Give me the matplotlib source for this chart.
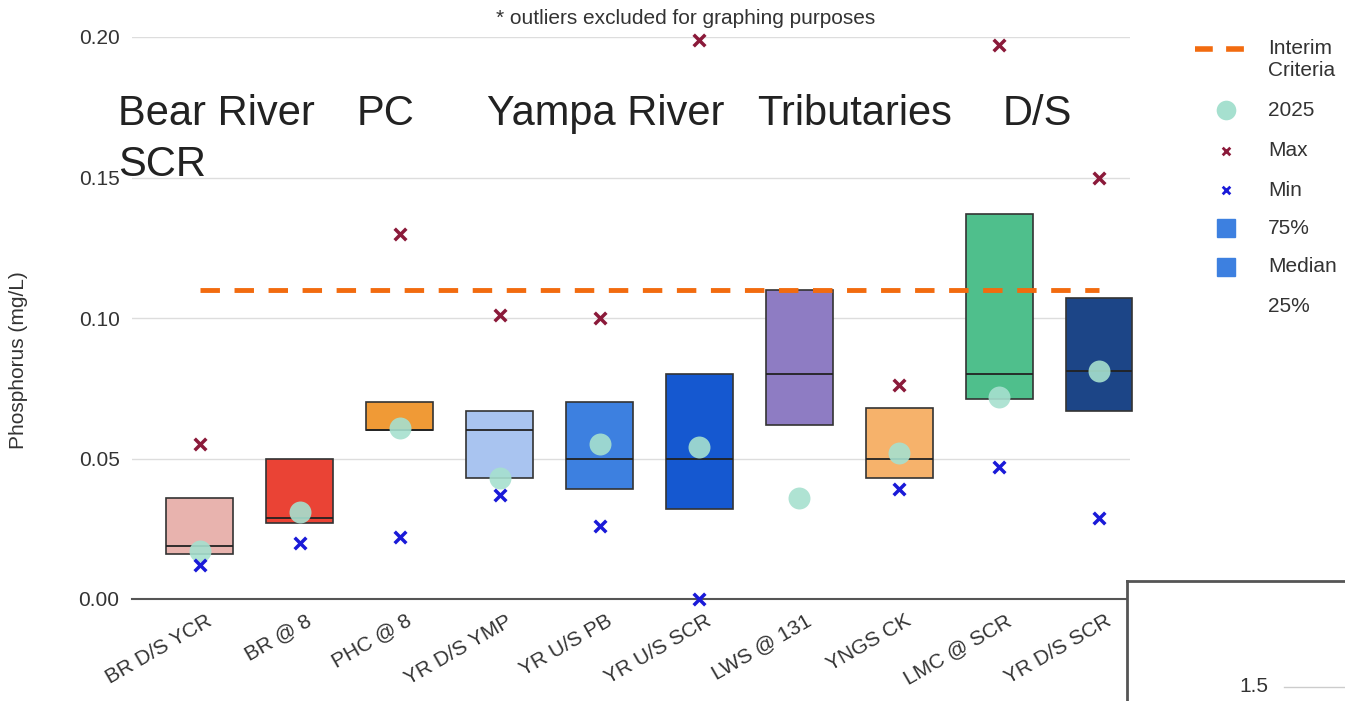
import numpy as np
import matplotlib
matplotlib.use("Agg")
import matplotlib.pyplot as plt
import matplotlib.transforms as mtransforms
from matplotlib.patches import Rectangle

plt.rcParams['font.family'] = ['Liberation Sans', 'DejaVu Sans']

sites = ['BR D/S YCR', 'BR @ 8', 'PHC @ 8', 'YR D/S YMP', 'YR U/S PB',
         'YR U/S SCR', 'LWS @ 131', 'YNGS CK', 'LMC @ SCR', 'YR D/S SCR']
q25 = [0.016, 0.027, 0.060, 0.043, 0.039, 0.032, 0.062, 0.043, 0.071, 0.067]
median = [0.019, 0.029, 0.060, 0.060, 0.050, 0.050, 0.080, 0.050, 0.080, 0.081]
q75 = [0.036, 0.050, 0.070, 0.067, 0.070, 0.080, 0.110, 0.068, 0.137, 0.107]
vmax = [0.055, np.nan, 0.130, 0.101, 0.100, 0.199, np.nan, 0.076, 0.197, 0.150]
vmin = [0.012, 0.020, 0.022, 0.037, 0.026, 0.000, np.nan, 0.039, 0.047, 0.029]
y2025 = [0.017, 0.031, 0.061, 0.043, 0.055, 0.054, 0.036, 0.052, 0.072, 0.081]
criteria = 0.110

box_colors = ['#e8b3ae', '#ea4335', '#f09a36', '#a9c4f0', '#3d80e0',
              '#1558d0', '#8e7cc3', '#f6b26b', '#4fbf8c', '#1c4587']
group_labels = ['Bear River', 'PC', 'Yampa River', 'Tributaries', 'D/S']
group_x = [118, 357, 487, 757, 1003]

ORANGE = '#f26b0f'
MINT = '#a6e0cf'
MAXC = '#8b1a3a'
MINC = '#1a1ad8'
TXT = '#333333'
FS = 15

W, H = 1345, 701
fig = plt.figure(figsize=(W / 100, H / 100), dpi=100)
ax = fig.add_axes([132 / W, 1 - 599 / H, (1130 - 132) / W, (599 - 37) / H])

x = np.arange(len(sites))
ax.bar(x, np.array(q75) - np.array(q25), bottom=q25, width=0.67,
       color=box_colors, edgecolor='#333333', linewidth=1.2, zorder=3,
       clip_on=False)
ax.hlines(median, x - 0.335, x + 0.335, color='#222222', linewidth=1.3,
          zorder=4, clip_on=False)
ax.plot([0, len(sites) - 1], [criteria, criteria], color=ORANGE,
        linestyle=(0, (4, 3)), linewidth=3.5, zorder=5)
ax.scatter(x, y2025, s=250, color=MINT, alpha=0.9, zorder=6, linewidths=0)
ax.scatter(x, vmax, marker='x', s=70, color=MAXC, linewidths=2.5,
           zorder=7, clip_on=False)
ax.scatter(x, vmin, marker='x', s=70, color=MINC, linewidths=2.5,
           zorder=7, clip_on=False)

ax.set_xlim(-0.68, 9.31)
ax.set_ylim(0, 0.2)
ax.set_yticks([0, 0.05, 0.10, 0.15, 0.20])
ax.set_yticklabels(['0.00', '0.05', '0.10', '0.15', '0.20'])
ax.set_xticks(x)
ax.set_xticklabels(sites, rotation=30, ha='right', rotation_mode='anchor')
ax.tick_params(axis='both', length=0, labelsize=FS, labelcolor=TXT)
ax.tick_params(axis='x', pad=9)
ax.tick_params(axis='y', pad=9)
shift = mtransforms.ScaledTranslation(6 / 100, 0, fig.dpi_scale_trans)
for lbl in ax.get_xticklabels():
    lbl.set_transform(lbl.get_transform() + shift)
ax.grid(axis='y', color='#dddddd', linewidth=1, zorder=0)
for s in ['top', 'right', 'left']:
    ax.spines[s].set_visible(False)
ax.spines['bottom'].set_color('#555555')
ax.spines['bottom'].set_linewidth(1.5)

fig.text(19 / W, 1 - 360 / H, 'Phosphorus (mg/L)', rotation=90,
         ha='center', va='center', fontsize=FS, color=TXT)
fig.text(686 / W, 1 - 18 / H, '* outliers excluded for graphing purposes',
         ha='center', va='center', fontsize=FS, color=TXT)

for lab, gx in zip(group_labels, group_x):
    fig.text(gx / W, 1 - 125 / H, lab, fontsize=30, color='#222222',
             ha='left', va='baseline')
fig.text(118 / W, 1 - 176 / H, 'SCR', fontsize=30, color='#222222',
         ha='left', va='baseline')

# legend drawn in pixel coordinates
lax = fig.add_axes([0, 0, 1, 1], facecolor='none')
lax.set_xlim(0, W)
lax.set_ylim(H, 0)
lax.axis('off')
hx, tx = 1226, 1268
lax.plot([1195, 1257], [49, 49], color=ORANGE, linestyle=(0, (3.2, 2.4)),
         linewidth=4)
lax.text(tx, 49, 'Interim', fontsize=FS, color=TXT, va='center')
lax.text(tx, 70, 'Criteria', fontsize=FS, color=TXT, va='center')
lax.scatter([hx], [110], s=200, color=MINT, linewidths=0)
lax.text(tx, 110, '2025', fontsize=FS, color=TXT, va='center')
lax.scatter([hx], [151], marker='x', s=30, color=MAXC, linewidths=2)
lax.text(tx, 151, 'Max', fontsize=FS, color=TXT, va='center')
lax.scatter([hx], [190], marker='x', s=30, color=MINC, linewidths=2)
lax.text(tx, 190, 'Min', fontsize=FS, color=TXT, va='center')
for yy, lab in [(228, '75%'), (267, 'Median')]:
    lax.add_patch(Rectangle((hx - 9, yy - 9), 18, 18, color='#3d80e0'))
    lax.text(tx, yy, lab, fontsize=FS, color=TXT, va='center')
lax.text(tx, 307, '25%', fontsize=FS, color=TXT, va='center')

inset = fig.add_axes([1127 / W, 0, (W - 1127) / W, (701 - 581) / H])
inset.set_xlim(0, 1)
inset.set_ylim(0, 1)
inset.set_xticks([])
inset.set_yticks([])
for s in ['bottom', 'right']:
    inset.spines[s].set_visible(False)
for s in ['top', 'left']:
    inset.spines[s].set_color('#555555')
    inset.spines[s].set_linewidth(2)
inset.text(0.58, 0.12, '1.5', fontsize=FS, color=TXT, ha='center', va='center')
inset.plot([0.72, 1.0], [0.12, 0.12], color='#cccccc', linewidth=1)

fig.savefig('out.png', dpi=100)
